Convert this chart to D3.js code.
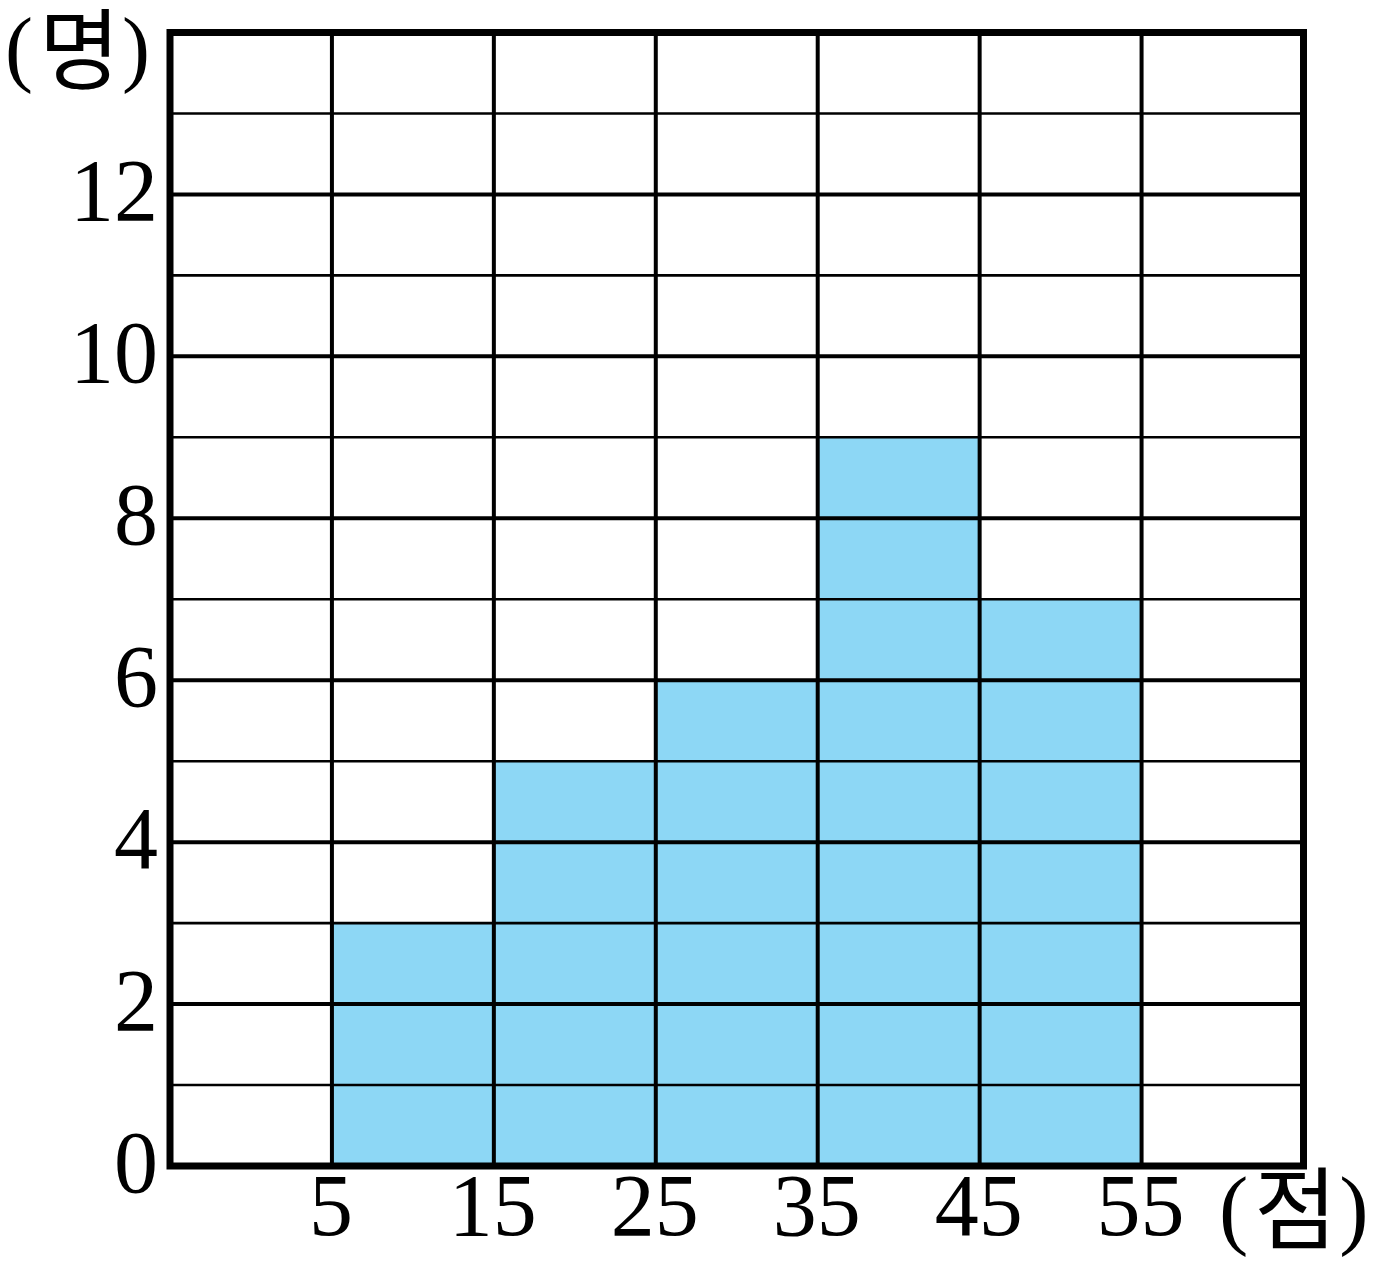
<!DOCTYPE html>
<html>
<head>
<meta charset="utf-8">
<script src="https://cdn.jsdelivr.net/npm/d3@7"></script>
<style>
html, body { margin: 0; padding: 0; background: #fff; }
svg { display: block; }
</style>
</head>
<body>
<svg id="chart" width="1376" height="1268"></svg>
<script>
// Data
const binStarts = [5, 15, 25, 35, 45];
const binWidth = 10;
const counts = [3, 5, 6, 9, 7];
const xTicks = [5, 15, 25, 35, 45, 55];
const yTicks = [0, 2, 4, 6, 8, 10, 12];
const yGrid = d3.range(1, 14);
const xUnit = "(점)";
const yUnit = "(명)";

const svg = d3.select("#chart");
const x = d3.scaleLinear().domain([-5, 65]).range([170, 1303.5]);
const y = d3.scaleLinear().domain([0, 14]).range([1166, 32.5]);
const fontFam = "'Liberation Serif', 'Noto Sans CJK KR', serif";

// Bars
svg.append("g").selectAll("rect")
  .data(binStarts)
  .join("rect")
  .attr("x", d => x(d))
  .attr("width", d => x(d + binWidth) - x(d))
  .attr("y", (d, i) => y(counts[i]))
  .attr("height", (d, i) => y(0) - y(counts[i]))
  .attr("fill", "#8dd7f5");

// Horizontal grid lines
svg.append("g").selectAll("line")
  .data(yGrid)
  .join("line")
  .attr("x1", x(-5)).attr("x2", x(65))
  .attr("y1", d => y(d)).attr("y2", d => y(d))
  .attr("stroke", "#000")
  .attr("stroke-width", d => d % 2 === 0 ? 4 : 2.6);

// Vertical grid lines
svg.append("g").selectAll("line")
  .data(xTicks)
  .join("line")
  .attr("x1", d => x(d)).attr("x2", d => x(d))
  .attr("y1", y(14)).attr("y2", y(0))
  .attr("stroke", "#000")
  .attr("stroke-width", 4);

// Border
svg.append("rect")
  .attr("x", x(-5)).attr("y", y(14))
  .attr("width", x(65) - x(-5))
  .attr("height", y(0) - y(14))
  .attr("fill", "none")
  .attr("stroke", "#000")
  .attr("stroke-width", 7);

// Y tick labels
svg.append("g").selectAll("text")
  .data(yTicks)
  .join("text")
  .attr("x", 158)
  .attr("y", d => y(d) + 26)
  .attr("text-anchor", "end")
  .attr("font-family", fontFam)
  .attr("font-size", 88)
  .attr("fill", "#000")
  .text(d => d);

// X tick labels
svg.append("g").selectAll("text")
  .data(xTicks)
  .join("text")
  .attr("x", d => x(d) - 1)
  .attr("y", 1235)
  .attr("text-anchor", "middle")
  .attr("font-family", fontFam)
  .attr("font-size", 88)
  .attr("fill", "#000")
  .text(d => d);

// Unit labels
function unitLabel(txt, x0, y0, size, kSize, kDy) {
  const t = svg.append("text")
    .attr("x", x0).attr("y", y0)
    .attr("font-family", fontFam)
    .attr("font-size", size)
    .attr("fill", "#000");
  t.append("tspan").text(txt[0]);
  t.append("tspan").attr("dx", 6).attr("dy", kDy)
    .attr("font-family", "'Noto Sans CJK KR', sans-serif")
    .attr("font-size", kSize).text(txt[1]);
  t.append("tspan").attr("dx", 2).attr("dy", -kDy).text(txt[2]);
}
unitLabel(yUnit, 5, 76, 84, 88, 6);
unitLabel(xUnit, 1219, 1238, 88, 90, 4);
</script>
</body>
</html>
